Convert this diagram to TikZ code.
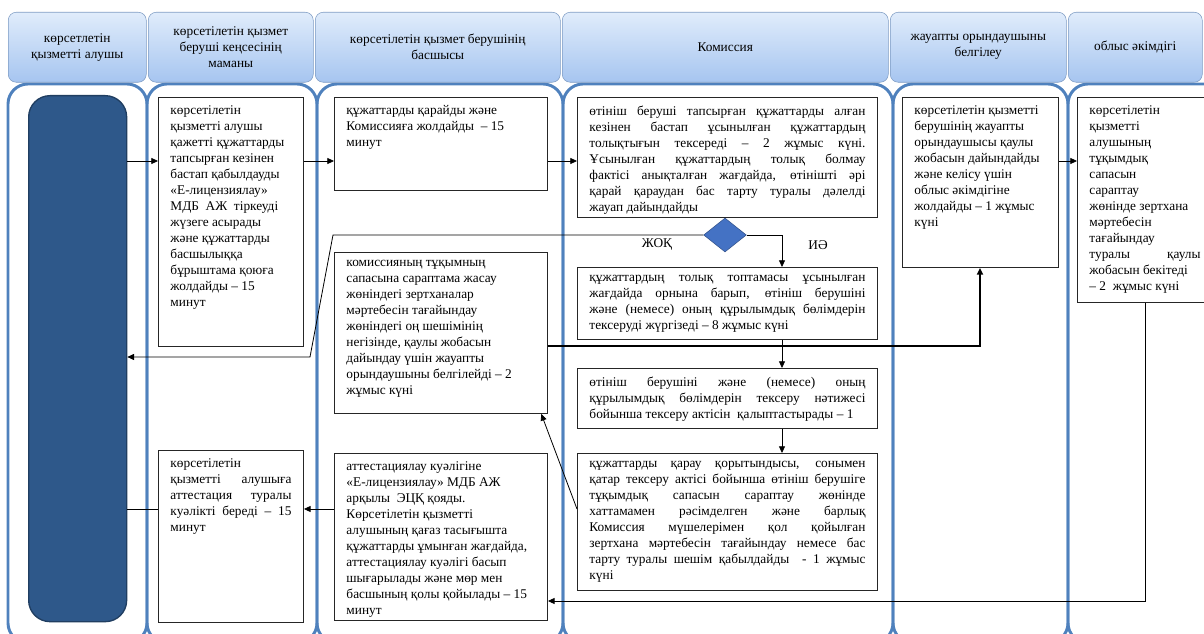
\documentclass[tikz,border=0pt]{standalone}
\usepackage{fontspec}
\setmainfont{Liberation Serif}
\usetikzlibrary{shapes.geometric,arrows.meta}
\definecolor{laneblue}{RGB}{79,129,189}
\definecolor{headtop}{RGB}{224,236,251}
\definecolor{headbot}{RGB}{166,197,240}
\definecolor{headline}{RGB}{125,155,195}
\definecolor{clientblue}{RGB}{46,88,138}
\definecolor{decblue}{RGB}{68,114,196}

\begin{document}
\begin{tikzpicture}[x=0.75pt,y=-0.75pt,
  every node/.style={font=\fontsize{10}{12}\selectfont},
  lane/.style={draw=laneblue, line width=2.2pt, rounded corners=15pt},
  head/.style={draw=headline, rounded corners=6pt, top color=headtop, bottom color=headbot,
    anchor=north west, align=center, inner sep=0pt, minimum height=52.5pt},
  stagebox/.style={draw=black!85, line width=0.7pt, fill=white, anchor=north west,
    inner xsep=9pt, inner ysep=6pt},
  flow/.style={-{Triangle[length=5pt,width=4.5pt]}, line width=0.6pt},
  decision/.style={diamond, draw=decblue!70!black, fill=decblue, inner sep=0pt,
    minimum width=32pt, minimum height=25.5pt},
]
\clip (0,0) rectangle (1204,634);

% swimlanes
\draw[lane] (8,84) rectangle (147,643);
\draw[lane] (147,84) rectangle (317,643);
\draw[lane] (317,84) rectangle (563,643);
\draw[lane] (563,84) rectangle (893,643);
\draw[lane] (893,84) rectangle (1068,643);
\draw[lane] (1068,84) rectangle (1250,643);

% lane headers
\node[head, minimum width=103.5pt] (h1) at (8,12) {көрсетлетін\\қызметті алушы};
\node[head, minimum width=123.75pt] (h2) at (148,12) {көрсетілетін қызмет\\беруші кеңсесінің\\маманы};
\node[head, minimum width=183.75pt] (h3) at (315,12) {көрсетілетін қызмет берушінің\\басшысы};
\node[head, minimum width=244.5pt] (h4) at (562,12) {Комиссия};
\node[head, minimum width=132pt] (h5) at (890,12) {жауапты орындаушыны\\белгілеу};
\node[head, minimum width=100.5pt] (h6) at (1068,12) {облыс әкімдігі};

% service recipient
\node[draw=clientblue!70!black, fill=clientblue, line width=1pt, rounded corners=16pt,
  anchor=north west, minimum width=73.5pt, minimum height=394.5pt] (client) at (28,95) {};

% steps
\node[stagebox] (A) at (158,97) {\parbox[t][174.75pt][t]{90.75pt}{\raggedright
көрсетілетін\\қызметті алушы\\қажетті құжаттарды\\тапсырған кезінен\\бастап қабылдауды\\«Е-лицензиялау»\\МДБ~ АЖ~ тіркеуді\\жүзеге асырады\\және құжаттарды\\басшылыққа\\бұрыштама қоюға\\жолдайды – 15\\минут}};
\node[stagebox] (B) at (158,450) {\parbox[t][117pt][t]{90.75pt}{%
көрсетілетін\linebreak қызметті алушыға\linebreak аттестация туралы\linebreak куәлікті береді – 15\linebreak минут}};
\node[stagebox] (C) at (334,97) {\parbox[t][57.75pt][t]{141.75pt}{\raggedright
құжаттарды қарайды және\\Комиссияға жолдайды~ – 15\\минут}};
\node[stagebox] (D) at (334,252) {\parbox[t][108.75pt][t]{141.75pt}{\raggedright
комиссияның тұқымның\\сапасына сараптама жасау\\жөніндегі зертханалар\\мәртебесін тағайындау\\жөніндегі оң шешімінің\\негізінде, қаулы жобасын\\дайындау үшін жауапты\\орындаушыны белгілейді – 2\\жұмыс күні}};
\node[stagebox] (E) at (334,453) {\parbox[t][113.25pt][t]{141.75pt}{\raggedright
аттестациялау куәлігіне\\«Е-лицензиялау» МДБ АЖ\\арқылы~ ЭЦҚ қояды.\\Көрсетілетін қызметті\\алушының қағаз тасығышта\\құжаттарды ұмынған жағдайда,\\аттестациялау куәлігі басып\\шығарылады және мөр мен\\басшының қолы қойылады – 15\\минут}};
\node[stagebox] (F) at (577,97) {\parbox[t][78pt][t]{207pt}{%
өтініш беруші тапсырған құжаттарды алған\linebreak кезінен бастап ұсынылған құжаттардың\linebreak толықтығын тексереді – 2 жұмыс күні.\linebreak Ұсынылған құжаттардың толық болмау\linebreak фактісі анықталған жағдайда, өтінішті әрі\linebreak қарай қараудан бас тарту туралы дәлелді\linebreak жауап дайындайды}};
\node[stagebox] (G) at (577,267) {\parbox[t][42pt][t]{207pt}{%
құжаттардың толық топтамасы ұсынылған\linebreak жағдайда орнына барып, өтініш берушіні\linebreak және (немесе) оның құрылымдық бөлімдерін\linebreak тексеруді жүргізеді – 8 жұмыс күні}};
\node[stagebox] (H) at (577,368) {\parbox[t][33pt][t]{207pt}{%
өтініш берушіні және (немесе) оның\linebreak құрылымдық бөлімдерін тексеру нәтижесі\linebreak бойынша тексеру актісін~ қалыптастырады – 1}};
\node[stagebox] (I) at (577,453) {\parbox[t][90.75pt][t]{207pt}{%
құжаттарды қарау қорытындысы, сонымен\linebreak қатар тексеру актісі бойынша өтініш берушіге\linebreak тұқымдық сапасын сараптау жөнінде\linebreak хаттамамен рәсімделген және барлық\linebreak Комиссия мүшелерімен қол қойылған\linebreak зертхана мәртебесін тағайындау немесе бас\linebreak тарту туралы шешім қабылдайды~ - 1 жұмыс\linebreak күні}};
\node[stagebox] (J) at (902,97) {\parbox[t][115.5pt][t]{99pt}{\raggedright
көрсетілетін қызметті\\берушінің жауапты\\орындаушысы қаулы\\жобасын дайындайды\\және келісу үшін\\облыс әкімдігіне\\жолдайды – 1 жұмыс\\күні}};
\node[stagebox] (K) at (1077,97) {\parbox[t][141.75pt][t]{83.25pt}{\raggedright
көрсетілетін\\қызметті\\алушының\\тұқымдық\\сапасын\\сараптау\\жөнінде зертхана\\мәртебесін\\тағайындау\\туралы \hfill қаулы\\жобасын бекітеді\\– 2~ жұмыс күні}};

% decision
\node[decision] (dec) at (725,235) {};
\node (no) at (657,245) {ЖОҚ};
\node (yes) at (818,245) {ИӘ};

% helper rows and columns
\coordinate (r1) at (0,161);
\coordinate (r2) at (0,346);
\coordinate (r3) at (0,601);
\coordinate (r4) at (0,509);
\coordinate (v1) at (782,0);
\coordinate (v2) at (980,0);
\coordinate (no1) at (333,235);
\coordinate (no2) at (310,357);

% connectors
\draw[flow] (client.east |- r1) -- (A.west |- r1);
\draw[flow] (A.east |- r1) -- (C.west |- r1);
\draw[flow] (C.east |- r1) -- (F.west |- r1);
\draw[flow] (J.east |- r1) -- (K.west |- r1);
\draw[flow] (dec.east) -| (G.north -| v1);
\draw[flow] (G.south -| v1) -- (H.north -| v1);
\draw[flow] (H.south -| v1) -- (I.north -| v1);
\draw[flow] (dec.west) -- (no1) -- (no2) -- (client.east |- no2);
\draw[flow, line width=1.4pt] (D.east |- r2) -| (J.south -| v2);
\draw[flow] (K.south) |- (E.east |- r3);
\draw[flow] (I.west |- r4) -- ([xshift=-5pt]D.south east);
\draw[flow] (E.west |- r4) -- (B.east |- r4);
\draw[line width=0.6pt] (B.west |- r4) -- (client.east |- r4);
\end{tikzpicture}
\end{document}
